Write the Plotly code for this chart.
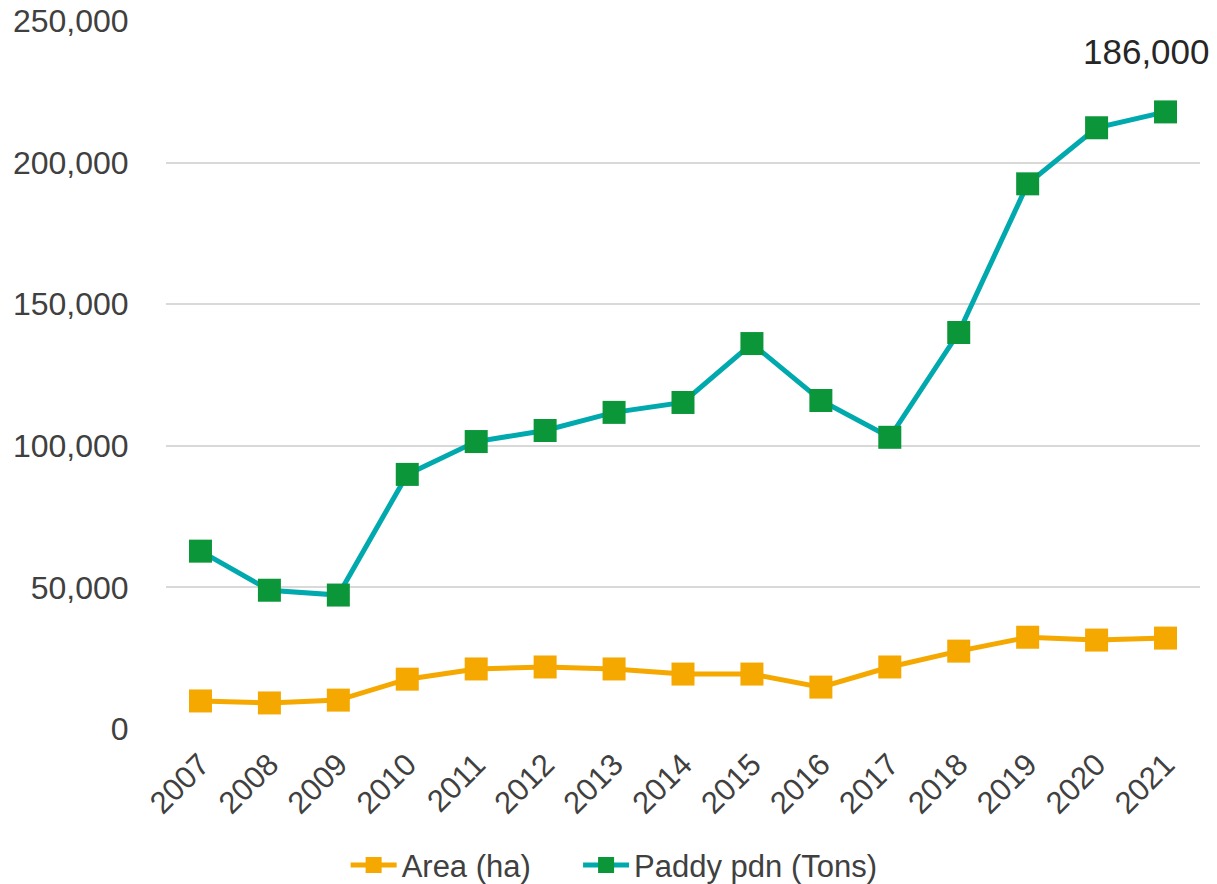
import plotly.graph_objects as go

years = ["2007", "2008", "2009", "2010", "2011", "2012", "2013", "2014",
         "2015", "2016", "2017", "2018", "2019", "2020", "2021"]
area_ha = [9900, 9200, 10200, 17600, 21200, 21900, 21200, 19400,
           19400, 14800, 21900, 27500, 32400, 31400, 32100]
paddy_tons = [62800, 49000, 47300, 89900, 101500, 105400, 111800, 115300,
              136100, 116000, 103000, 140000, 192500, 212300, 217900]
y_ticks = [0, 50000, 100000, 150000, 200000, 250000]
y_tick_labels = ["0", "50,000", "100,000", "150,000", "200,000", "250,000"]
note_text = "186,000"

FONT = "Liberation Sans, Arial, sans-serif"
TXT = "#404040"

fig = go.Figure()
fig.add_trace(go.Scatter(
    x=years, y=area_ha, name="Area (ha)", mode="lines+markers",
    line=dict(color="#F5A800", width=5),
    marker=dict(symbol="square", size=23, color="#F5A800"),
    legend="legend",
))
fig.add_trace(go.Scatter(
    x=years, y=paddy_tons, name="Paddy pdn (Tons)", mode="lines+markers",
    line=dict(color="#00A9AD", width=5),
    marker=dict(symbol="square", size=23, color="#0A9639"),
    legend="legend2",
))

fig.add_annotation(
    x=0.948, y=0.957, xref="paper", yref="paper", text=note_text,
    showarrow=False, xanchor="center", yanchor="middle",
    font=dict(family=FONT, size=35, color="#262626"),
)

leg_common = dict(
    orientation="h", xref="container", yref="container",
    xanchor="left", y=0.021, yanchor="middle",
    font=dict(family=FONT, size=31, color=TXT),
    itemwidth=46, bgcolor="rgba(0,0,0,0)",
)

fig.update_layout(
    width=1217, height=884,
    margin=dict(l=166, r=17, t=21, b=155, autoexpand=False),
    paper_bgcolor="white", plot_bgcolor="white",
    font=dict(family=FONT, color=TXT),
    showlegend=True,
    legend=dict(x=0.284, **leg_common),
    legend2=dict(x=0.475, **leg_common),
    xaxis=dict(
        type="category", range=[-0.5, 14.5], tickangle=-45,
        showgrid=False, zeroline=False, showline=False,
        tickfont=dict(family=FONT, size=31, color=TXT),
        ticks="outside", ticklen=4, tickcolor="rgba(0,0,0,0)",
    ),
    yaxis=dict(
        range=[0, 250000], tickvals=y_ticks, ticktext=y_tick_labels,
        showgrid=True, gridcolor="#D9D9D9", gridwidth=1.5,
        zeroline=False, showline=False,
        tickfont=dict(family=FONT, size=32, color=TXT),
        ticks="outside", ticklen=30, tickcolor="rgba(0,0,0,0)",
    ),
)

fig.write_html(
    "out.html",
    config={"displayModeBar": False},
    post_script="document.body.style.margin='0';document.body.style.padding='0';",
)
